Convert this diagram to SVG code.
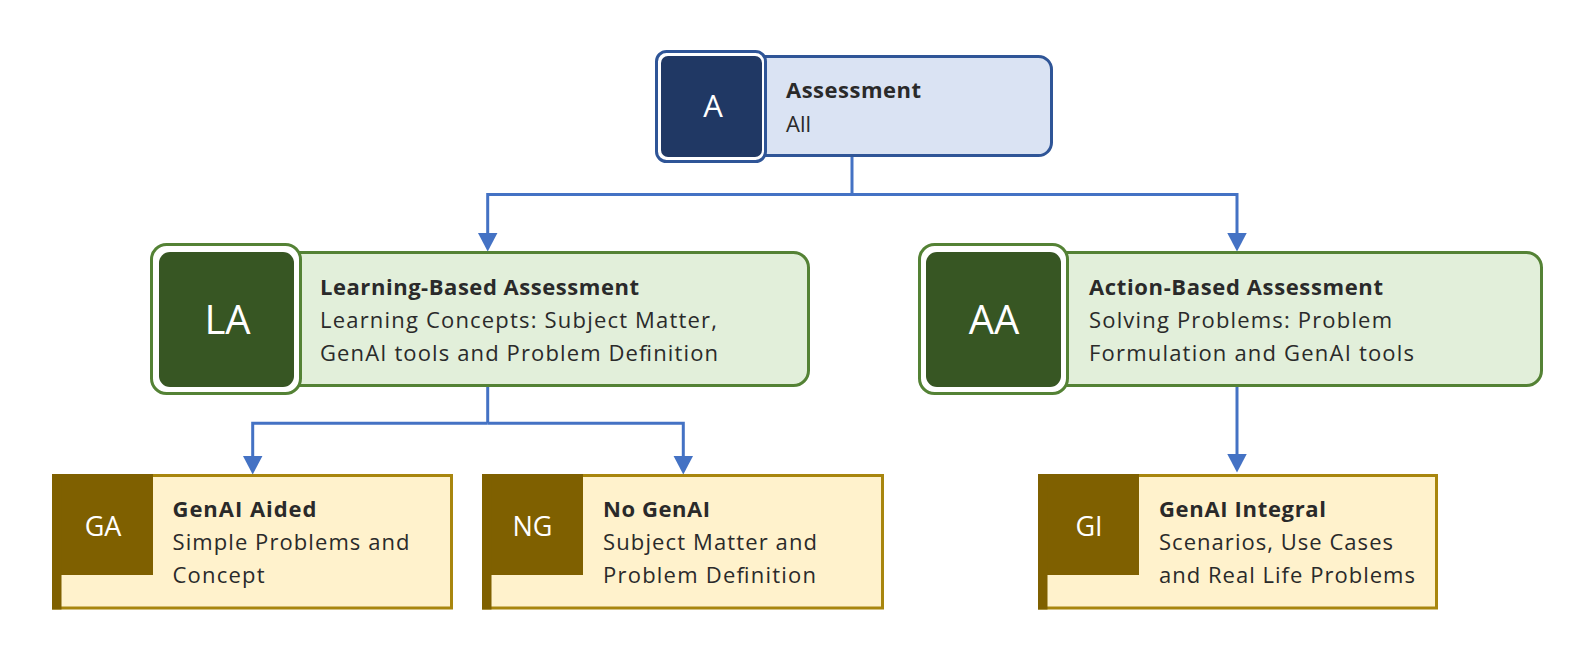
<svg xmlns="http://www.w3.org/2000/svg" width="1592" height="657" viewBox="0 0 1592 657">
<defs>
<style>
.t{font-family:"Open Sans","Noto Sans","DejaVu Sans",sans-serif;font-size:22px;fill:#2a2a2a}
.b{font-weight:bold}
.lbl{font-family:"Open Sans","Noto Sans","DejaVu Sans",sans-serif;fill:#ffffff;text-anchor:middle}
.conn{fill:none;stroke:#4472C4;stroke-width:3;stroke-linejoin:miter}
.blueLight{fill:#DAE3F3;stroke:#2F5597;stroke-width:3}
.blueOuter{fill:#ffffff;stroke:#2F5597;stroke-width:3}
.blueDark{fill:#203864}
.greenLight{fill:#E2EFDA;stroke:#548235;stroke-width:3}
.greenOuter{fill:#ffffff;stroke:#548235;stroke-width:3}
.greenDark{fill:#375623}
.goldLight{fill:#FFF2CC;stroke:#A8860E;stroke-width:3}
.goldDark{fill:#7F6000}
</style>
<marker id="arr" viewBox="0 0 19 20" refX="0.5" refY="10" markerWidth="19" markerHeight="20" markerUnits="userSpaceOnUse" orient="auto">
<path d="M0,0 L19,10 L0,20 z" fill="#4472C4"/>
</marker>
</defs>
<rect width="1592" height="657" fill="#ffffff"/>

<g id="connectors">
<path class="conn" d="M852,157 V194.5"/>
<path class="conn" d="M852,194.5 H487.7 V233" marker-end="url(#arr)"/>
<path class="conn" d="M852,194.5 H1237 V233" marker-end="url(#arr)"/>
<path class="conn" d="M487.7,387 V423.3"/>
<path class="conn" d="M487.7,423.3 H252.7 V456" marker-end="url(#arr)"/>
<path class="conn" d="M487.7,423.3 H683.3 V456" marker-end="url(#arr)"/>
<path class="conn" d="M1237,387 V454" marker-end="url(#arr)"/>
</g>

<g id="node-A">
<rect class="blueLight" x="740" y="56.5" width="311.5" height="99" rx="13"/>
<rect class="blueOuter" x="656.5" y="51.5" width="109" height="110" rx="10"/>
<rect class="blueDark" x="661" y="56" width="101" height="101" rx="7"/>
<text class="lbl" x="713" y="117" font-size="31">A</text>
<text class="t b" x="786" y="98" textLength="135" lengthAdjust="spacing">Assessment</text>
<text class="t" x="786" y="132">All</text>
</g>

<g id="node-LA">
<rect class="greenLight" x="280" y="252.5" width="528.5" height="133" rx="15"/>
<rect class="greenOuter" x="151.5" y="244.5" width="149" height="149" rx="15"/>
<rect class="greenDark" x="159" y="252" width="135" height="135" rx="11"/>
<text class="lbl" x="227.5" y="334" font-size="40">LA</text>
<text class="t b" x="320" y="294.5" textLength="319" lengthAdjust="spacing">Learning-Based Assessment</text>
<text class="t" x="320" y="328" textLength="397" lengthAdjust="spacing">Learning Concepts: Subject Matter,</text>
<text class="t" x="320" y="361" textLength="398" lengthAdjust="spacing">GenAI tools and Problem Definition</text>
</g>

<g id="node-AA">
<rect class="greenLight" x="1050" y="252.5" width="491.5" height="133" rx="15"/>
<rect class="greenOuter" x="919.5" y="244.5" width="148" height="149" rx="15"/>
<rect class="greenDark" x="926" y="252" width="135" height="135" rx="11"/>
<text class="lbl" x="994" y="334" font-size="40">AA</text>
<text class="t b" x="1089" y="294.5" textLength="294" lengthAdjust="spacing">Action-Based Assessment</text>
<text class="t" x="1089" y="328" textLength="303" lengthAdjust="spacing">Solving Problems: Problem</text>
<text class="t" x="1089" y="361" textLength="325" lengthAdjust="spacing">Formulation and GenAI tools</text>
</g>

<g id="node-GA">
<rect class="goldLight" x="53.5" y="475.5" width="398" height="132.5"/>
<rect class="goldDark" x="52" y="474" width="101" height="101"/>
<rect class="goldDark" x="52" y="474" width="9.5" height="135.5"/>
<text class="lbl" x="103" y="536" font-size="27">GA</text>
<text class="t b" x="172.5" y="517" textLength="144" lengthAdjust="spacing">GenAI Aided</text>
<text class="t" x="172.5" y="550" textLength="237" lengthAdjust="spacing">Simple Problems and</text>
<text class="t" x="172.5" y="583" textLength="92" lengthAdjust="spacing">Concept</text>
</g>

<g id="node-NG">
<rect class="goldLight" x="483.5" y="475.5" width="399" height="132.5"/>
<rect class="goldDark" x="482" y="474" width="101" height="101"/>
<rect class="goldDark" x="482" y="474" width="9.5" height="135.5"/>
<text class="lbl" x="532.5" y="536" font-size="27">NG</text>
<text class="t b" x="603" y="517" textLength="107" lengthAdjust="spacing">No GenAI</text>
<text class="t" x="603" y="550" textLength="214" lengthAdjust="spacing">Subject Matter and</text>
<text class="t" x="603" y="583" textLength="213" lengthAdjust="spacing">Problem Definition</text>
</g>

<g id="node-GI">
<rect class="goldLight" x="1039.5" y="475.5" width="397" height="132.5"/>
<rect class="goldDark" x="1038" y="474" width="101" height="101"/>
<rect class="goldDark" x="1038" y="474" width="9.5" height="135.5"/>
<text class="lbl" x="1089" y="536" font-size="27">GI</text>
<text class="t b" x="1159" y="517" textLength="167" lengthAdjust="spacing">GenAI Integral</text>
<text class="t" x="1159" y="550" textLength="234" lengthAdjust="spacing">Scenarios, Use Cases</text>
<text class="t" x="1159" y="583" textLength="256" lengthAdjust="spacing">and Real Life Problems</text>
</g>
</svg>
